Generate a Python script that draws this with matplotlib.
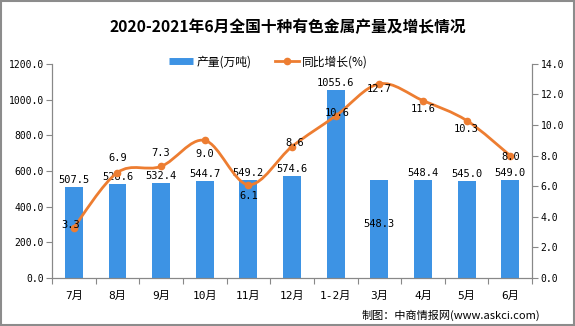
import numpy as np
import matplotlib.pyplot as plt
from matplotlib.path import Path
from matplotlib.patches import PathPatch, Rectangle
from matplotlib.lines import Line2D

# 数据
months = ['7月', '8月', '9月', '10月', '11月', '12月', '1-2月', '3月', '4月', '5月', '6月']
output = [507.5, 528.6, 532.4, 544.7, 549.2, 574.6, 1055.6, 548.3, 548.4, 545.0, 549.0]
growth = [3.3, 6.9, 7.3, 9.0, 6.1, 8.6, 10.6, 12.7, 11.6, 10.3, 8.0]

# 标签偏移 (像素)
bar_lbl_off = [7, 7, 7, 7, 7, 7, 7, -44, 7, 7, 7]
line_lbl_off = [(-3, 3), (0, 15), (0, 13), (0, -14), (0, -11), (3, 4),
                (2, 3), (0, -5), (0, -8), (0, -8), (0, -1)]

blue = '#3D93E4'
orange = '#ED7D31'
mono = ['DejaVu Sans Mono', 'Noto Sans CJK SC']
cjk = ['Noto Sans CJK SC', 'DejaVu Sans']

fig = plt.figure(figsize=(5.75, 3.26), dpi=100)
ax = fig.add_axes([0.0904, 0.147, 0.835, 0.657])
ax2 = ax.twinx()

x = np.arange(len(months))
ax.bar(x, output, width=0.41, color=blue, zorder=2)
ax.set_xlim(-0.5, len(months) - 0.5)
ax.set_ylim(0, 1200)
ax.set_yticks(np.arange(0, 1201, 200))
ax.set_yticklabels(['%.1f' % v for v in np.arange(0, 1201, 200)], family=mono, fontsize=7)
ax2.set_ylim(0, 14)
ax2.set_yticks(np.arange(0, 14.1, 2))
ax2.set_yticklabels(['%.1f' % v for v in np.arange(0, 14.1, 2)], family=mono, fontsize=7)

# x 轴：刻度在分类边界，标签在中间
ax.set_xticks(np.arange(-0.5, len(months), 1))
ax.set_xticklabels([])
ax.set_xticks(x, minor=True)
ax.set_xticklabels(months, minor=True, family=mono, fontsize=8)
ax.tick_params(axis='x', which='minor', length=0, pad=9)
ax.tick_params(axis='x', which='major', length=4, color='#888888')
ax.tick_params(axis='y', length=4, color='#888888', pad=2)
ax2.tick_params(axis='y', length=4, color='#888888', pad=2)

for a in (ax, ax2):
    a.spines['top'].set_visible(False)
    for s in ('left', 'right', 'bottom'):
        a.spines[s].set_color('#888888')

# 平滑折线 (Catmull-Rom -> Bezier)
pts = np.column_stack([x, growth]).astype(float)
verts = [pts[0]]
codes = [Path.MOVETO]
for i in range(len(pts) - 1):
    p0 = pts[max(i - 1, 0)]
    p1 = pts[i]
    p2 = pts[i + 1]
    p3 = pts[min(i + 2, len(pts) - 1)]
    verts += [p1 + (p2 - p0) / 6, p2 - (p3 - p1) / 6, p2]
    codes += [Path.CURVE4] * 3
ax2.add_patch(PathPatch(Path(verts, codes), facecolor='none', edgecolor=orange,
                        lw=2.0, zorder=3))
ax2.plot(x, growth, 'o', color=orange, markersize=4.5, zorder=4)

for i, v in enumerate(output):
    ax.annotate('%.1f' % v, (x[i], v), xytext=(0, bar_lbl_off[i]), textcoords='offset pixels',
                ha='center', va='center', family=mono, fontsize=7.5, zorder=5)
for i, v in enumerate(growth):
    ax2.annotate('%.1f' % v, (x[i], v), xytext=line_lbl_off[i], textcoords='offset pixels',
                 ha='center', va='center', family=mono, fontsize=7.5, zorder=5)

fig.text(0.5, 0.917, '2020-2021年6月全国十种有色金属产量及增长情况', ha='center', va='center',
         family=cjk, fontsize=11.3, fontweight='bold')

handles = [Line2D([], [], color=blue, lw=5, solid_capstyle='butt'),
           Line2D([], [], color=orange, lw=2, marker='o', markersize=4.5)]
fig.legend(handles, ['产量(万吨)', '同比增长(%)'], loc='center', bbox_to_anchor=(0.467, 1 - 62 / 326),
           ncol=2, frameon=False, prop={'family': cjk, 'size': 8.5}, handlelength=2.0,
           columnspacing=2.0, handletextpad=0.3)

fig.text(0.94, 1 - 315 / 326, '制图：中商情报网(www.askci.com)', ha='right', va='center',
         family=cjk, fontsize=8)

fig.patches.append(Rectangle((0.002, 0.003), 0.996, 0.994, transform=fig.transFigure,
                             fill=False, edgecolor='#8c8c8c', lw=1.5))

fig.savefig('out.png', dpi=100)
